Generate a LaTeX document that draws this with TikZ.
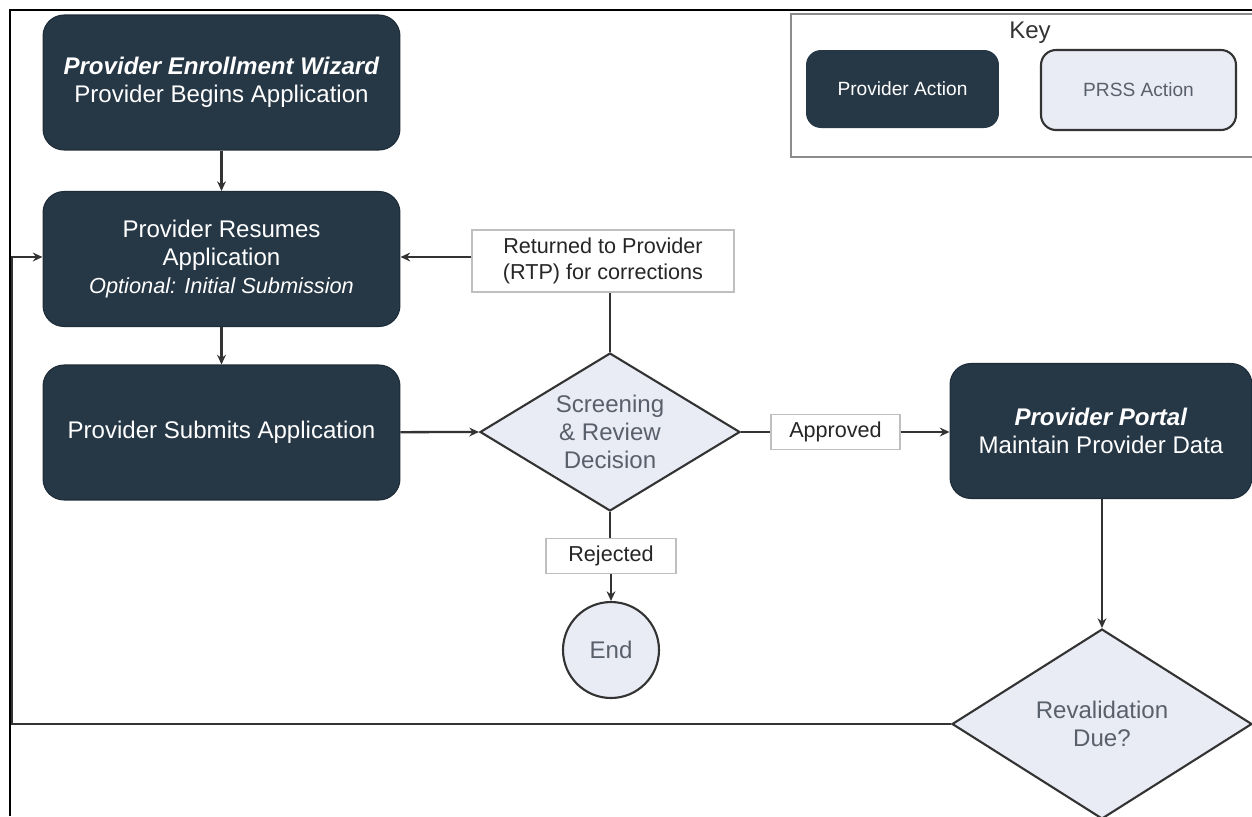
\documentclass[tikz,border=0pt]{standalone}
\usepackage{fontspec}
\setmainfont{Liberation Sans}
\usetikzlibrary{shapes.geometric,arrows.meta}
\definecolor{navy}{HTML}{263746}
\definecolor{pale}{HTML}{E9ECF5}
\definecolor{greytxt}{HTML}{5A606B}
\definecolor{linec}{HTML}{333333}
\tikzset{
  provbox/.style={rounded corners=0.42cm, fill=navy, draw=navy!80!black, line width=0.6pt,
    text=white, align=center, minimum width=7.14cm, minimum height=2.7cm,
    font=\fontsize{13.7}{16}\selectfont},
  decide/.style={diamond, fill=pale, draw=linec, line width=1.2pt, inner sep=0pt,
    text=greytxt, align=center, font=\fontsize{13.7}{16}\selectfont},
  lbl/.style={draw=black!25, fill=white, line width=0.7pt, align=center, inner sep=0pt,
    text=black!85, font=\fontsize{12.3}{15}\selectfont},
  flow/.style={draw=linec, line width=1.3pt, -{Stealth[length=5.5pt,width=5pt]}},
  plain/.style={draw=linec, line width=1.3pt},
}
\begin{document}
\begin{tikzpicture}[x=0.02cm,y=-0.02cm]
\useasboundingbox (0,0) rectangle (1252,816);
\fill[white] (0,0) rectangle (1252,816);
% frame
\draw[black, line width=1.3pt] (10,816) -- (10,10) -- (1260,10);

% key
\node[draw=black!45, line width=0.9pt, minimum width=9.5cm, minimum height=2.86cm, anchor=north west, inner sep=0pt] (keyframe) at (790,13) {};
\node[font=\fontsize{13.7}{16}\selectfont, text=black!80] (keytitle) at (1030,33) {Key};
\node[rounded corners=0.3cm, fill=navy, text=white, minimum width=3.86cm, minimum height=1.56cm,
  font=\fontsize{10.9}{13}\selectfont] (keyprov) at (902.5,89) {Provider Action};
\node[rounded corners=0.3cm, fill=pale, draw=linec, line width=1.2pt, text=greytxt, minimum width=3.9cm, minimum height=1.6cm,
  font=\fontsize{10.9}{13}\selectfont] (keyprss) at (1138.5,90) {PRSS Action};

% main boxes
\node[provbox] (begin) at (221.5,82.5) {\textbf{\textit{Provider Enrollment Wizard}}\\Provider Begins Application};
\node[provbox] (resume) at (221.5,259) {Provider Resumes\\Application\\{\fontsize{12.4}{15}\selectfont\itshape Optional: Initial Submission}};
\node[provbox] (submit) at (221.5,432.5) {Provider Submits Application};
\node[provbox, minimum width=6.04cm] (portal) at (1101,431) {\textbf{\textit{Provider Portal}}\\Maintain Provider Data};

% decisions
\node[decide, aspect=1.65, minimum width=5.2cm, minimum height=3.16cm] (screen) at (610,432) {Screening\\\& Review\\Decision};
\node[decide, aspect=1.58, minimum width=6cm, minimum height=3.8cm] (reval) at (1102,724) {Revalidation\\Due?};
\node[circle, fill=pale, draw=linec, line width=1.2pt, minimum size=1.92cm, inner sep=0pt, text=greytxt,
  font=\fontsize{13.7}{16}\selectfont] (end) at (611,650) {End};

% labels
\node[lbl, minimum width=5.24cm, minimum height=1.24cm] (rtp) at (603,261) {Returned to Provider\\(RTP) for corrections};
\node[lbl, minimum width=2.58cm, minimum height=0.7cm] (appr) at (835.5,432) {Approved};
\node[lbl, minimum width=2.6cm, minimum height=0.7cm] (rej) at (611,556) {Rejected};

% connectors
\draw[flow] (begin) -- (resume);
\draw[flow] (resume) -- (submit);
\draw[flow] (submit) -- (screen.west);
\draw[plain] (screen.north) -- (rtp.south -| screen.north);
\draw[flow] (rtp.west |- 0,257) -- (resume.east |- 0,257);
\draw[plain] (screen.east) -- (appr.west);
\draw[flow] (appr.east) -- (portal.west |- appr.east);
\draw[plain] (screen.south) -- (rej.north -| screen.south);
\draw[flow] (rej.south -| end.north) -- (end.north);
\draw[flow] (portal.south -| reval.north) -- (reval.north);
\coordinate (loopc) at (12,724);
\draw[flow] (reval.west) -- (loopc) -- (12,257) -- (resume.west |- 0,257);
\end{tikzpicture}
\end{document}
